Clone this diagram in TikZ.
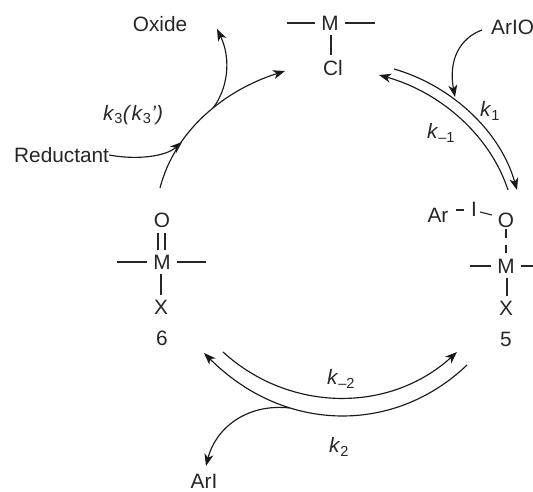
\documentclass[tikz,border=0pt]{standalone}
\usepackage{fontspec}
\setmainfont{Liberation Sans}
\usetikzlibrary{arrows.meta}
\newcommand{\kk}[1]{\textit{k}\textsubscript{#1}}
\tikzset{
  lab/.style={inner sep=0pt,font=\fontsize{20.8}{23}\selectfont,text=black!85},
  atom/.style={lab,anchor=center,inner xsep=6pt,inner ysep=5pt},
  bond/.style={line width=1.1pt,draw=black!85},
  arc/.style={line width=1.15pt,draw=black!90},
  tip/.style={arc,-{Stealth[length=12pt,width=9pt,inset=3.5pt]}}
}
\begin{document}
\begin{tikzpicture}[x=1pt,y=-1pt]
\useasboundingbox (0,0) rectangle (533,492);
% top complex
\node[atom] (mA) at (330,23) {M};
\node[atom] (cl) at (333,68) {Cl};
\coordinate (mAl) at (287,23); \coordinate (mAr) at (375,23);
\draw[bond] (mA) -- (mAl);
\draw[bond] (mA) -- (mAr);
\draw[bond] ([xshift=1pt]mA.south) -- ([xshift=-2pt]cl.north);
% 5
\node[atom] (ar) at (438,215) {Ar};
\node[atom] (iod) at (474,209) {I};
\node[atom] (oB) at (506,220) {O};
\node[atom] (mB) at (506,266) {M};
\node[atom] (xB) at (506,308) {X};
\node[atom] (nB) at (506,339) {5};
\coordinate (ai1) at (456,210); \coordinate (ai2) at (464,210);
\coordinate (io1) at (480,212); \coordinate (io2) at (492,215);
\coordinate (om1) at (506,229); \coordinate (om2) at (506,238);
\coordinate (om3) at (506,245); \coordinate (om4) at (506,253);
\coordinate (mBl) at (470,266); \coordinate (mBr) at (533,266);
\draw[bond] (ai1) -- (ai2);
\draw[bond] (io1) -- (io2);
\draw[bond] (om1) -- (om2);
\draw[bond] (om3) -- (om4);
\draw[bond] (mB) -- (mBl);
\draw[bond] (mB) -- (mBr);
\draw[bond] ([xshift=1pt]mB.south) -- ([xshift=1pt]xB.north);
% 6
\node[atom] (oC) at (162,220) {O};
\node[atom] (mC) at (162,262) {M};
\node[atom] (xC) at (161,307) {X};
\node[atom] (nC) at (162,338) {6};
\coordinate (mCl) at (117,262); \coordinate (mCr) at (206,262);
\draw[bond] (mC) -- (mCl);
\draw[bond] (mC) -- (mCr);
\draw[bond] ([xshift=-4pt]oC.south) -- ([xshift=-4pt]mC.north);
\draw[bond] ([xshift=3pt]oC.south) -- ([xshift=3pt]mC.north);
\draw[bond] ([xshift=-1pt]mC.south) -- (xC.north);
% text
\node[lab] (oxide) at (160,24) {Oxide};
\node[lab,anchor=west] (arioL) at (491,27) {ArIO};
\node[lab,anchor=west] (red) at (14,155) {Reductant};
\node[lab] (ariL) at (204,481) {ArI};
\node[lab] (k1) at (490,111) {\kk{1}};
\node[lab] (km1) at (441,133) {\kk{–1}};
\node[lab] (k3) at (133,115) {\kk{3}\textit{(}\kk{3}\textit{')}};
\node[lab] (km2) at (341,379) {\kk{–2}};
\node[lab] (k2) at (339,447) {\kk{2}};
% arrows
\coordinate (p1) at (160,188); \coordinate (p2) at (285,71);
\coordinate (r2) at (182,142); \coordinate (ox1) at (213,108); \coordinate (ox2) at (217,29);
\coordinate (a1) at (482,30); \coordinate (a2) at (455,97);
\coordinate (b1) at (394,69); \coordinate (b2) at (517,190);
\coordinate (c1) at (508,190); \coordinate (c2) at (379,75);
\coordinate (d1) at (223,352); \coordinate (d2) at (457,352);
\coordinate (e1) at (467,365); \coordinate (e2) at (204,353);
\coordinate (f1) at (290,408); \coordinate (f2) at (206,466);
\draw[tip] (p1) .. controls (175,130) and (225,90) .. (p2);
\draw[tip] (red.east) .. controls (135,160) and (165,157) .. (r2);
\draw[tip] (ox1) .. controls (227,90) and (232,60) .. (ox2);
\draw[tip] (a1) .. controls (460,38) and (448,60) .. (a2);
\draw[tip] (b1) .. controls (450,85) and (500,130) .. (b2);
\draw[tip] (c1) .. controls (490,135) and (440,92) .. (c2);
\draw[tip] (d1) .. controls (290,413) and (390,413) .. (d2);
\draw[tip] (e1) .. controls (395,434) and (285,434) .. (e2);
\draw[tip] (f1) .. controls (245,403) and (215,430) .. (f2);
\end{tikzpicture}
\end{document}
